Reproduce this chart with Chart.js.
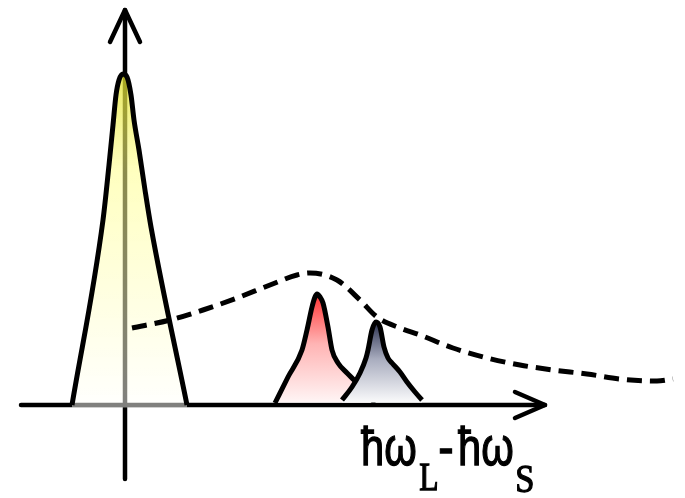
<!DOCTYPE html>
<html>
<head>
<meta charset="utf-8">
<title>Raman spectrum sketch</title>
<script src="https://cdn.jsdelivr.net/npm/chart.js@4.4.1/dist/chart.umd.min.js"></script>
<style>
  html, body { margin: 0; padding: 0; background: #fff; }
  #wrap { width: 685px; height: 498px; position: relative; }
</style>
</head>
<body>
<div id="wrap"><canvas id="chart"></canvas></div>
<script>
// Energy shift (x) and intensity (y), origin at the laser line
var rayleighX = [-0.53, -0.22, -0.16, -0.12, -0.09, -0.06, -0.02, 0.02, 0.06, 0.09, 0.14, 0.20, 0.26, 0.62];
var rayleighY = [0, 1.85, 2.40, 2.80, 3.10, 3.25, 3.31, 3.28, 3.10, 2.85, 2.55, 2.15, 1.78, 0];

var stokesX = [1.50, 1.63, 1.77, 1.82, 1.87, 1.90, 1.92, 1.95, 1.98, 2.03, 2.07, 2.13, 2.22, 2.29, 2.40, 2.50];
var stokesY = [0.02, 0.28, 0.55, 0.75, 0.98, 1.08, 1.11, 1.08, 1.02, 0.78, 0.55, 0.42, 0.32, 0.25, 0.13, 0.02];

var shiftedX = [2.17, 2.27, 2.35, 2.41, 2.43, 2.47, 2.51, 2.55, 2.59, 2.63, 2.67, 2.75, 2.82, 2.90, 2.97];
var shiftedY = [0.05, 0.18, 0.32, 0.47, 0.55, 0.75, 0.83, 0.78, 0.58, 0.47, 0.42, 0.33, 0.23, 0.13, 0.05];

var bandX = [0.07, 0.45, 0.78, 1.12, 1.45, 1.72, 1.85, 2.12, 2.35, 2.52, 2.75, 2.95, 3.28, 3.62, 3.95, 4.28, 4.62, 4.95, 5.32, 5.48];
var bandY = [0.77, 0.85, 0.95, 1.07, 1.20, 1.30, 1.32, 1.25, 1.05, 0.88, 0.77, 0.70, 0.57, 0.47, 0.40, 0.35, 0.31, 0.26, 0.24, 0.26];

// Axis lines and arrow heads
var yAxisX = [0, 0], yAxisY = [-0.74, 3.95];
var yArrowX = [-0.15, 0, 0.15], yArrowY = [3.63, 3.95, 3.63];
var xAxisX = [-1.04, 4.20], xAxisY = [0, 0];
var xArrowX = [3.90, 4.20, 3.90], xArrowY = [0.13, 0, -0.13];

var X_MIN = -1.25, X_MAX = 5.60, Y_MIN = -0.93, Y_MAX = 4.05;

// Axis label pieces: text, font, ink span along x, baseline
var labelParts = [
  { text: 'ħω', font: '54px "Liberation Sans"', x0: 2.36, x1: 2.90, y: -0.60 },
  { text: 'L', font: '41px "Liberation Serif"', x0: 2.95, x1: 3.12, y: -0.85 },
  { text: '-', font: '54px "Liberation Sans"', x0: 3.15, x1: 3.27, y: -0.60 },
  { text: 'ħω', font: '54px "Liberation Sans"', x0: 3.33, x1: 3.87, y: -0.60 },
  { text: 'S', font: '41px "Liberation Serif"', x0: 3.92, x1: 4.08, y: -0.87 }
];

function pts(xs, ys) {
  return xs.map(function (x, i) { return { x: x, y: ys[i] }; });
}

// vertical gradient from the peak top down to the baseline
function peakFill(ys, stops) {
  return function (ctx) {
    var chart = ctx.chart;
    if (!chart.chartArea) return stops[0][1];
    var sy = chart.scales.y;
    var top = sy.getPixelForValue(Math.max.apply(null, ys));
    var bottom = sy.getPixelForValue(0);
    var g = chart.ctx.createLinearGradient(0, top, 0, bottom);
    stops.forEach(function (s) { g.addColorStop(s[0], s[1]); });
    return g;
  };
}

function axisLine(xs, ys) {
  return {
    data: pts(xs, ys),
    borderColor: '#000',
    borderWidth: 4.5,
    borderCapStyle: 'round',
    borderJoinStyle: 'round',
    pointRadius: 0,
    fill: false,
    tension: 0,
    order: 4
  };
}

var labelPlugin = {
  id: 'shiftLabel',
  afterDraw: function (chart) {
    var ctx = chart.ctx, sx = chart.scales.x, sy = chart.scales.y;
    ctx.save();
    ctx.fillStyle = '#000';
    ctx.strokeStyle = '#000';
    ctx.lineWidth = 1.3;
    ctx.textAlign = 'left';
    ctx.textBaseline = 'alphabetic';
    labelParts.forEach(function (p) {
      ctx.font = p.font;
      var m = ctx.measureText(p.text);
      var ink = m.actualBoundingBoxLeft + m.actualBoundingBoxRight;
      var px0 = sx.getPixelForValue(p.x0), px1 = sx.getPixelForValue(p.x1);
      var k = (px1 - px0) / ink;
      ctx.save();
      ctx.translate(px0 + m.actualBoundingBoxLeft * k, sy.getPixelForValue(p.y));
      ctx.scale(k, 1);
      ctx.fillText(p.text, 0, 0);
      ctx.strokeText(p.text, 0, 0);
      ctx.restore();
    });
    ctx.restore();
  }
};

new Chart(document.getElementById('chart').getContext('2d'), {
  type: 'line',
  data: {
    datasets: [
      {
        data: pts(shiftedX, shiftedY),
        borderColor: '#000',
        borderWidth: 5,
        borderJoinStyle: 'round',
        backgroundColor: peakFill(shiftedY, [[0, '#2c3250'], [0.45, '#a9adbf'], [1, '#ffffff']]),
        fill: { value: 0.025 },
        pointRadius: 0,
        cubicInterpolationMode: 'monotone',
        order: 0
      },
      {
        data: pts(stokesX, stokesY),
        borderColor: '#000',
        borderWidth: 5,
        borderJoinStyle: 'round',
        backgroundColor: peakFill(stokesY, [[0, '#ff3535'], [0.45, '#ffb4b4'], [1, '#fff8f8']]),
        fill: { value: 0.025 },
        pointRadius: 0,
        cubicInterpolationMode: 'monotone',
        order: 1
      },
      {
        data: pts(bandX, bandY),
        borderColor: '#000',
        borderWidth: 5,
        borderDash: [15, 8],
        pointRadius: 0,
        fill: false,
        cubicInterpolationMode: 'monotone',
        order: 2
      },
      {
        data: pts(rayleighX, rayleighY),
        borderColor: '#000',
        borderWidth: 5,
        borderJoinStyle: 'round',
        backgroundColor: peakFill(rayleighY, [[0, 'rgba(225,225,40,0.75)'], [0.3, 'rgba(255,255,140,0.55)'], [1, 'rgba(255,255,250,0.5)']]),
        fill: { value: -0.025 },
        pointRadius: 0,
        cubicInterpolationMode: 'monotone',
        order: 3
      },
      axisLine(yAxisX, yAxisY),
      axisLine(yArrowX, yArrowY),
      axisLine(xAxisX, xAxisY),
      axisLine(xArrowX, xArrowY)
    ]
  },
  options: {
    responsive: true,
    maintainAspectRatio: false,
    animation: false,
    layout: { padding: 0 },
    plugins: {
      legend: { display: false },
      tooltip: { enabled: false }
    },
    scales: {
      x: { type: 'linear', min: X_MIN, max: X_MAX, display: false },
      y: { type: 'linear', min: Y_MIN, max: Y_MAX, display: false }
    }
  },
  plugins: [labelPlugin]
});
</script>
</body>
</html>
